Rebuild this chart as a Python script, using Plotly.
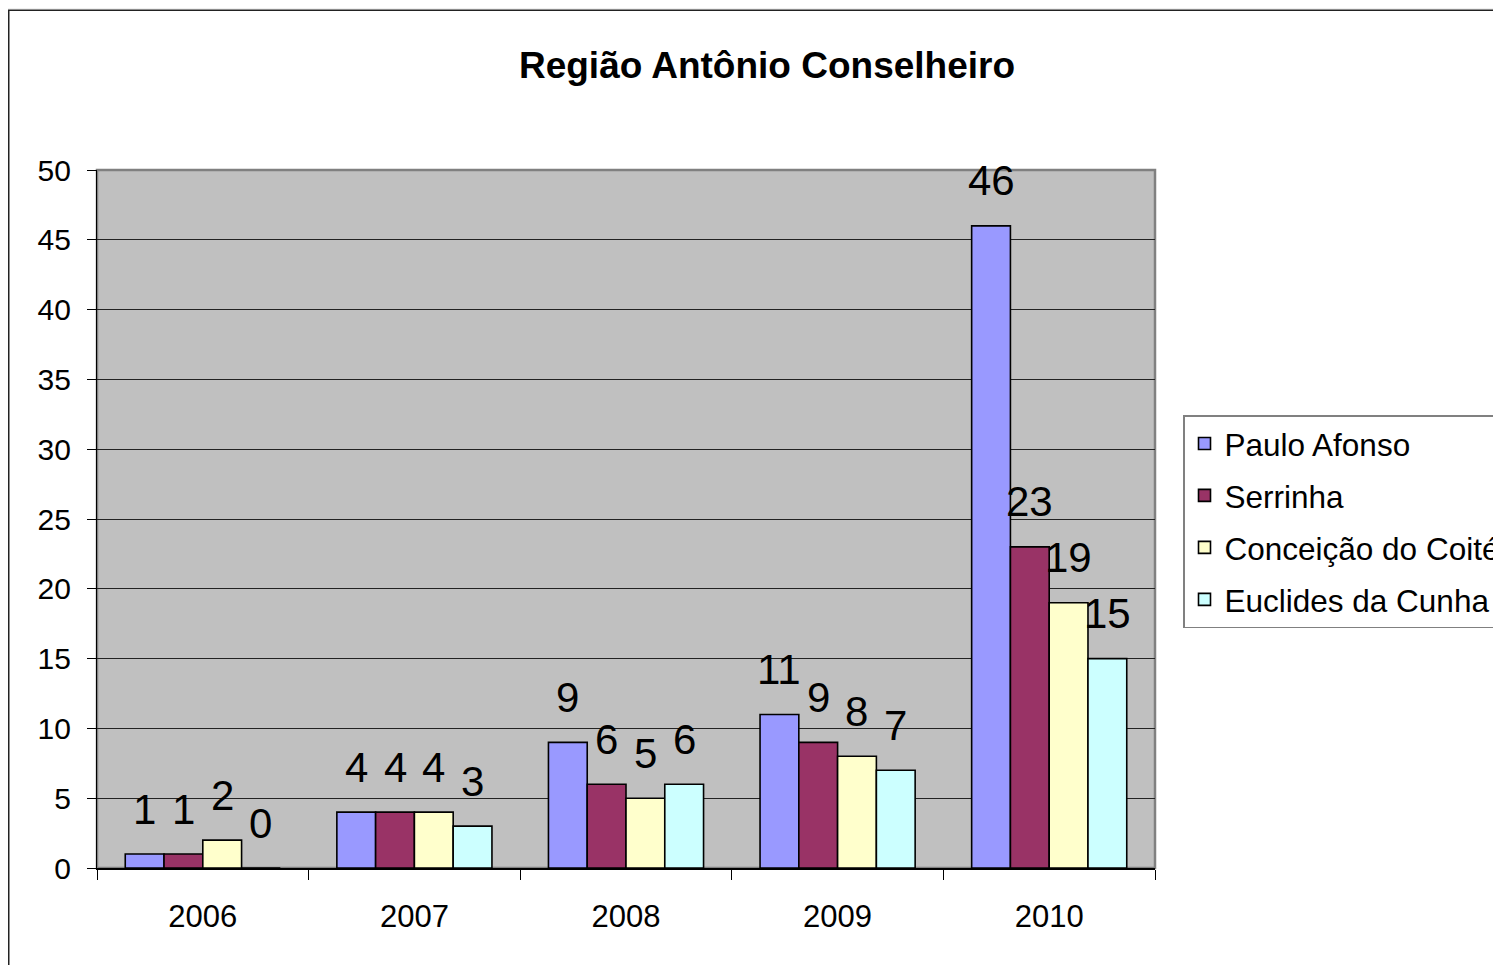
import plotly.graph_objects as go

years = ["2006", "2007", "2008", "2009", "2010"]
series_names = ["Paulo Afonso", "Serrinha", "Conceição do Coité", "Euclides da Cunha"]
paulo_afonso = [1, 4, 9, 11, 46]
serrinha = [1, 4, 6, 9, 23]
conceicao_coite = [2, 4, 5, 8, 19]
euclides_cunha = [0, 3, 6, 7, 15]
series_values = [paulo_afonso, serrinha, conceicao_coite, euclides_cunha]
colors = ["#9999FF", "#993366", "#FFFFCC", "#CCFFFF"]
y_ticks = [0, 5, 10, 15, 20, 25, 30, 35, 40, 45, 50]

FONT = "Liberation Sans, Arial, sans-serif"
# the page body adds an 8px margin, so the figure itself is 8px smaller
W, H = 1493, 957
ML, MR, MT, MB = 89, 346, 162, 97
PW, PH = W - ML - MR, H - MT - MB
BARGAP = 0.267

fig = go.Figure()
for i, (name, vals) in enumerate(zip(series_names, series_values)):
    fig.add_trace(go.Bar(
        x=years, y=vals, name=name, legendgroup=name,
        marker=dict(color=colors[i], line=dict(color="black", width=1.6)),
    ))

# data labels above the bars (x given as category index)
cat_px = PW / len(years)
bar_px = cat_px * (1 - BARGAP) / len(series_names)
for i, vals in enumerate(series_values):
    off = (i - (len(series_names) - 1) / 2) * bar_px
    for j, v in enumerate(vals):
        fig.add_annotation(x=j, y=v, xref="x", yref="y", text=str(v), showarrow=False,
                           xshift=off, yshift=45, yanchor="middle",
                           font=dict(family=FONT, size=42, color="black"))

def px_to_paper_x(p):
    return (p - ML) / PW

def px_to_paper_y(p):
    return (H - MB - p) / PH

shapes = [
    # plot area outline (gray)
    dict(type="rect", xref="paper", yref="paper", x0=0, x1=1, y0=0, y1=1,
         line=dict(color="#808080", width=2.5), layer="below"),
    # thin light strip above the chart border
    dict(type="rect", xref="paper", yref="paper",
         x0=px_to_paper_x(-10), x1=px_to_paper_x(W + 10),
         y0=px_to_paper_y(1.5), y1=px_to_paper_y(-10),
         fillcolor="#F0F0F0", line=dict(width=0), layer="above"),
    # chart border lines
    dict(type="line", xref="paper", yref="paper",
         x0=px_to_paper_x(0.75), x1=px_to_paper_x(0.75),
         y0=px_to_paper_y(2), y1=px_to_paper_y(H + 10),
         line=dict(color="#222222", width=1.5), layer="above"),
    dict(type="line", xref="paper", yref="paper",
         x0=px_to_paper_x(0), x1=px_to_paper_x(W + 10),
         y0=px_to_paper_y(2.25), y1=px_to_paper_y(2.25),
         line=dict(color="#222222", width=1.5), layer="above"),
]

fig.update_layout(
    width=W, height=H,
    margin=dict(l=ML, r=MR, t=MT, b=MB, autoexpand=False),
    paper_bgcolor="white",
    plot_bgcolor="#C0C0C0",
    barmode="group", bargap=BARGAP, bargroupgap=0,
    font=dict(family=FONT, color="black"),
    title=dict(text="<b>Região Antônio Conselheiro</b>", x=px_to_paper_x(759), xref="paper",
               xanchor="center", y=1 - 57 / H, yanchor="middle",
               font=dict(family=FONT, size=37, color="black")),
    xaxis=dict(type="category", range=[-0.5, 4.5], tickson="boundaries", ticks="outside",
               ticklen=10, tickcolor="black", tickwidth=1, showline=True, linecolor="black",
               linewidth=1.5, showgrid=False, tickfont=dict(family=FONT, size=31, color="black"),
               ticklabelstandoff=20),
    yaxis=dict(range=[0, 50], tickvals=y_ticks, ticks="outside", ticklen=9,
               tickcolor="black", tickwidth=1, showline=True, linecolor="black", linewidth=1.2,
               showgrid=True, gridcolor="#222222", gridwidth=1, zeroline=False,
               tickfont=dict(family=FONT, size=30, color="black"), ticklabelstandoff=10),
    legend=dict(x=px_to_paper_x(1175), xanchor="left", y=px_to_paper_y(407), yanchor="top",
                bgcolor="white", bordercolor="#808080", borderwidth=1.5,
                font=dict(family=FONT, size=31.5, color="black"),
                tracegroupgap=8, traceorder="grouped"),
    shapes=shapes,
    showlegend=True,
)

fig.write_html("out.html")
